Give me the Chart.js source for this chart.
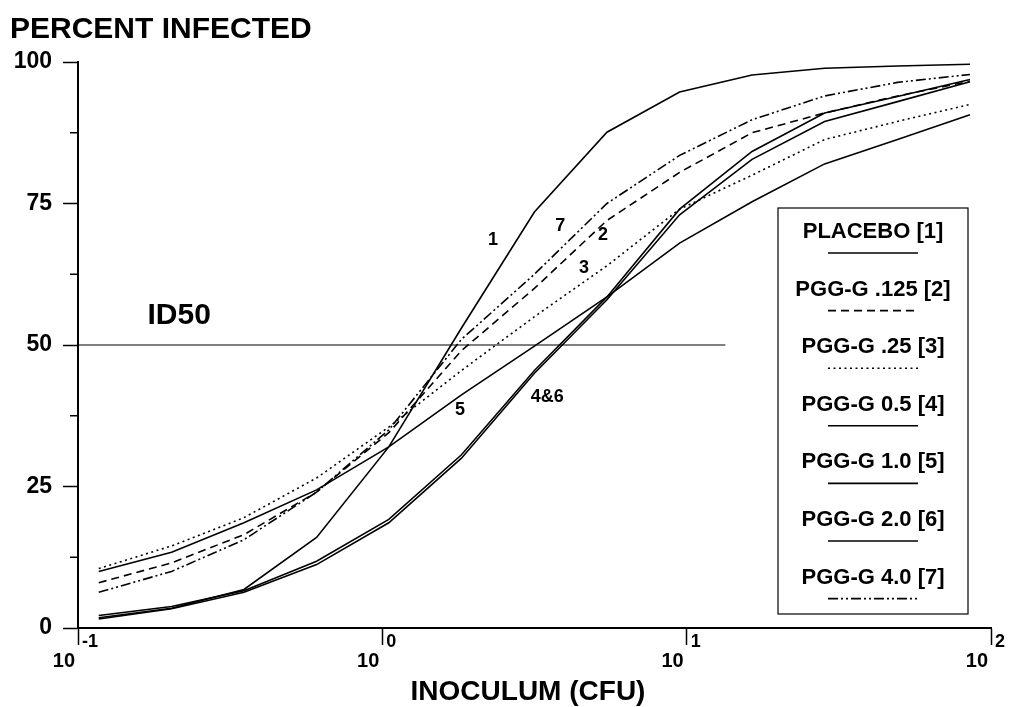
<!DOCTYPE html>
<html lang="en">
<head>
<meta charset="UTF-8" />
<title>Percent infected vs inoculum</title>
<script src="https://cdn.jsdelivr.net/npm/chart.js"></script>
<style>
  html, body { margin: 0; padding: 0; background: #fff; }
  canvas { display: block; }
</style>
</head>
<body>
<canvas id="chart" width="1014" height="707"></canvas>
<script>
  // inoculum (CFU) where each curve has a point
  const inoculum = [0.117, 0.203, 0.351, 0.608, 1.05, 1.82, 3.16, 5.47, 9.48, 16.4, 28.4, 49.3, 85.3];

  // percent infected per group
  const placebo  = [1.8, 3.5, 6.8, 16, 32, 53, 73.5, 87.6, 94.7, 97.7, 98.9, 99.3, 99.6];
  const pgg0125  = [8, 11.5, 16.5, 24, 34.5, 49, 60, 72, 80.5, 87.5, 91, 94, 96.6];
  const pgg025   = [10.5, 14.5, 19.5, 26.5, 35.5, 45.5, 55, 64, 74, 80, 86.3, 89.5, 92.5];
  const pgg05    = [2.2, 3.8, 6.6, 11.8, 19.2, 30.6, 45.5, 58.5, 74, 84.2, 91, 93.9, 96.9];
  const pgg10    = [10, 13.4, 18.6, 24.4, 32, 41.2, 49.8, 58.5, 68, 75.3, 82, 86.3, 90.7];
  const pgg20    = [1.6, 3.4, 6.3, 11.2, 18.6, 30, 45, 58, 73, 82.8, 89.5, 93, 96.5];
  const pgg40    = [6.3, 10, 15.6, 24, 35, 51, 62.5, 75, 83.5, 89.8, 94, 96.4, 97.8];

  const seriesLabels = ['PLACEBO [1]', 'PGG-G .125 [2]', 'PGG-G .25 [3]', 'PGG-G 0.5 [4]',
                        'PGG-G 1.0 [5]', 'PGG-G 2.0 [6]', 'PGG-G 4.0 [7]'];

  // ID50 reference line
  const id50X = [0.1, 13.4];
  const id50Y = [50, 50];

  // axis ticks
  const xTickValues = [0.1, 1, 10, 100];
  const xTickExponents = ['-1', '0', '1', '2'];
  const yMinorTicks = [12.5, 37.5, 62.5, 87.5];

  // curve number labels written on the plot
  const noteText = ['1', '7', '2', '3', '5', '4&6'];
  const noteX    = [2.31, 3.84, 5.31, 4.6, 1.80, 3.48];
  const noteY    = [68.6, 71.1, 69.4, 63.6, 38.5, 40.8];

  const FONT = '"Liberation Sans", Arial, Helvetica, sans-serif';

  function pts(ys) {
    return inoculum.map((x, i) => ({ x: x, y: ys[i] }));
  }

  const dashes = [[], [8, 5], [2, 3.5], [], [], [], [10, 3, 2, 3, 2, 3]];
  const values = [placebo, pgg0125, pgg025, pgg05, pgg10, pgg20, pgg40];

  const datasets = values.map((v, i) => ({
    label: seriesLabels[i],
    data: pts(v),
    borderColor: '#000',
    borderWidth: 1.6,
    borderDash: dashes[i],
    pointRadius: 0,
    tension: 0,
    fill: false
  }));

  datasets.push({
    label: 'ID50',
    data: id50X.map((x, i) => ({ x: x, y: id50Y[i] })),
    borderColor: '#000',
    borderWidth: 1.2,
    pointRadius: 0,
    fill: false
  });

  const decor = {
    id: 'decor',
    afterDraw(chart) {
      const ctx = chart.ctx;
      const xs = chart.scales.x;
      const ys = chart.scales.y;
      ctx.save();
      ctx.fillStyle = '#000';
      ctx.strokeStyle = '#000';
      ctx.textBaseline = 'alphabetic';

      // y title at the top
      ctx.font = 'bold 30px ' + FONT;
      ctx.textAlign = 'left';
      ctx.fillText('PERCENT INFECTED', 10, 38);

      // x tick labels 10^n
      xTickValues.forEach((v, i) => {
        const px = xs.getPixelForValue(v);
        ctx.font = 'bold 20px ' + FONT;
        ctx.textAlign = 'right';
        ctx.fillText('10', px - 3, 667);
        ctx.font = 'bold 18px ' + FONT;
        ctx.textAlign = 'left';
        ctx.fillText(xTickExponents[i], px + 4, 647);
      });

      // x title
      ctx.font = 'bold 28px ' + FONT;
      ctx.textAlign = 'center';
      ctx.fillText('INOCULUM (CFU)', 528, 700);

      // minor y ticks
      ctx.lineWidth = 1.5;
      yMinorTicks.forEach(v => {
        const py = ys.getPixelForValue(v);
        ctx.beginPath();
        ctx.moveTo(xs.left - 8, py);
        ctx.lineTo(xs.left, py);
        ctx.stroke();
      });

      // ID50 text
      ctx.font = 'bold 30px ' + FONT;
      ctx.textAlign = 'center';
      ctx.textBaseline = 'middle';
      ctx.fillText('ID50', xs.getPixelForValue(0.215), ys.getPixelForValue(55.2));

      // curve numbers
      ctx.font = 'bold 18px ' + FONT;
      noteText.forEach((t, i) => {
        ctx.fillText(t, xs.getPixelForValue(noteX[i]), ys.getPixelForValue(noteY[i]));
      });

      // legend box
      const bx = 778, by = 208, bw = 190, bh = 406;
      ctx.lineWidth = 1.2;
      ctx.strokeRect(bx, by, bw, bh);
      const cx = bx + bw / 2;
      seriesLabels.forEach((lab, i) => {
        const ty = 232 + i * 57.6;
        ctx.font = 'bold 22px ' + FONT;
        ctx.textAlign = 'center';
        ctx.textBaseline = 'middle';
        ctx.fillText(lab, cx, ty);
        ctx.beginPath();
        ctx.lineWidth = 1.6;
        ctx.setLineDash(chart.data.datasets[i].borderDash);
        ctx.moveTo(cx - 45, ty + 21);
        ctx.lineTo(cx + 45, ty + 21);
        ctx.stroke();
        ctx.setLineDash([]);
      });

      ctx.restore();
    }
  };

  new Chart(document.getElementById('chart'), {
    type: 'line',
    data: { datasets: datasets },
    options: {
      responsive: false,
      animation: false,
      devicePixelRatio: 1,
      layout: { padding: { top: 62, right: 23, left: 0, bottom: 0 } },
      plugins: {
        legend: { display: false },
        tooltip: { enabled: false }
      },
      scales: {
        x: {
          type: 'logarithmic',
          min: 0.1,
          max: 100,
          afterBuildTicks: s => { s.ticks = xTickValues.map(v => ({ value: v })); },
          afterFit: s => { s.height = 79; },
          ticks: { display: false },
          grid: { drawOnChartArea: false, drawTicks: true, tickLength: 17, color: '#000', tickWidth: 1.5 },
          border: { display: true, color: '#000', width: 2 }
        },
        y: {
          type: 'linear',
          min: 0,
          max: 100,
          afterFit: s => { s.width = 78; },
          ticks: {
            stepSize: 25,
            padding: 11,
            color: '#000',
            font: { family: FONT, size: 23, weight: 'bold' }
          },
          grid: { drawOnChartArea: false, drawTicks: true, tickLength: 15, color: '#000', tickWidth: 1.5 },
          border: { display: true, color: '#000', width: 2 }
        }
      }
    },
    plugins: [decor]
  });
</script>
</body>
</html>
